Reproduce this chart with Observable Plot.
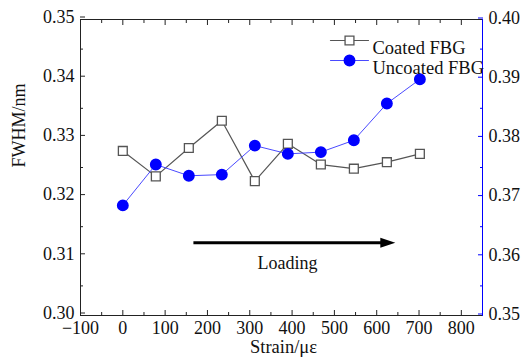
<!DOCTYPE html>
<html>
<head>
<meta charset="utf-8">
<script src="https://cdn.jsdelivr.net/npm/d3@7"></script>
<script src="https://cdn.jsdelivr.net/npm/@observablehq/plot@0.6"></script>
<style>
  html, body { margin: 0; padding: 0; background: #fff; }
  #chart svg { display: block; }
</style>
</head>
<body>
<div id="chart"></div>
<script>
// ---- data ----
const strain = [0, 78, 156, 234, 312, 390, 468, 546, 624, 702];
const coatedFWHM = [0.3278, 0.3235, 0.3283, 0.3329, 0.3227, 0.3290, 0.3255, 0.3248, 0.3259, 0.3273];
const uncoatedFWHM = [0.3686, 0.3755, 0.3736, 0.3738, 0.3787, 0.3773, 0.3776, 0.3796, 0.3858, 0.3899];
const xTicks = [-100, 0, 100, 200, 300, 400, 500, 600, 700, 800];
const xMinorTicks = [-50, 50, 150, 250, 350, 450, 550, 650, 750];
const leftTicks = [0.30, 0.31, 0.32, 0.33, 0.34, 0.35];
const leftMinorTicks = [0.305, 0.315, 0.325, 0.335, 0.345];
const rightTicks = [0.35, 0.36, 0.37, 0.38, 0.39, 0.40];
const rightMinorTicks = [0.355, 0.365, 0.375, 0.385, 0.395];
const xDomain = [-100, 850];
const leftDomain = [0.30, 0.35];
const rightDomain = [0.35, 0.40];
const seriesNames = ["Coated FBG", "Uncoated FBG"];
const loadingArrow = {x1: 168, x2: 625, y: 0.3123};
const loadingLabel = {x: 389, y: 0.3089, text: "Loading"};

// right axis values mapped onto the left scale
const shift = rightDomain[0] - leftDomain[0];
const coated = strain.map((s, i) => ({s, v: coatedFWHM[i]}));
const uncoated = strain.map((s, i) => ({s, v: uncoatedFWHM[i] - shift}));

const FONT = "Liberation Serif, Times New Roman, serif";
const GRAY = "#555";
const BLUE = "#0000ff";
const LINEBLUE = "#4a4aff";
const arrowHead = {draw(ctx) { ctx.moveTo(8, 0); ctx.lineTo(-7, -5); ctx.lineTo(-7, 5); ctx.closePath(); }};
const hLine = {draw(ctx, l) { ctx.moveTo(0, 0); ctx.lineTo(0, -l); }};

const chart = Plot.plot({
  width: 522,
  height: 360,
  marginLeft: 80,
  marginRight: 40,
  marginTop: 19,
  marginBottom: 45,
  style: {fontFamily: FONT, fontSize: "18px", background: "#fff", color: "#111"},
  x: {domain: xDomain},
  y: {domain: leftDomain},
  marks: [
    // bottom axis
    Plot.axisX({ticks: xTicks, tickSize: -5, tickPadding: 11, tickFormat: d => d < 0 ? "\u2212" + Math.abs(d) : String(d), label: null, fontSize: 18, stroke: "#222", fill: "#111"}),
    Plot.axisX({ticks: xMinorTicks, tickSize: -3, tickFormat: () => "", label: null, stroke: "#222"}),
    // top ticks
    Plot.axisX({anchor: "top", ticks: xTicks, tickSize: -5, tickFormat: () => "", label: null, stroke: "#222"}),
    Plot.axisX({anchor: "top", ticks: xMinorTicks, tickSize: -3, tickFormat: () => "", label: null, stroke: "#222"}),
    // left axis
    Plot.axisY({ticks: leftTicks, tickSize: -5, tickPadding: 11, dy: -2.5, tickFormat: d => d.toFixed(2), label: null, fontSize: 18, stroke: "#222", fill: "#111"}),
    Plot.axisY({ticks: leftMinorTicks, tickSize: -3, tickFormat: () => "", label: null, stroke: "#222"}),
    // right axis (blue)
    Plot.axisY({anchor: "right", ticks: rightTicks.map(v => v - shift), tickSize: -5, tickPadding: 11, dy: -1.5, tickFormat: d => (d + shift).toFixed(2), label: null, fontSize: 18, stroke: BLUE, fill: "#111"}),
    Plot.axisY({anchor: "right", ticks: rightMinorTicks.map(v => v - shift), tickSize: -3, tickFormat: () => "", label: null, stroke: BLUE}),
    Plot.frame({stroke: "#222"}),
    Plot.frame({anchor: "right", stroke: BLUE}),
    // series
    Plot.line(coated, {x: "s", y: "v", stroke: GRAY, strokeWidth: 1.2}),
    Plot.line(uncoated, {x: "s", y: "v", stroke: LINEBLUE, strokeWidth: 1}),
    Plot.dot(coated, {x: "s", y: "v", symbol: "square", r: 5, stroke: GRAY, fill: "#fff", strokeWidth: 1.3}),
    Plot.dot(uncoated, {x: "s", y: "v", symbol: "circle", r: 5.2, fill: BLUE, stroke: BLUE}),
    // loading arrow
    Plot.ruleY([loadingArrow], {y: "y", x1: "x1", x2: "x2", strokeWidth: 3, stroke: "#000"}),
    Plot.dot([loadingArrow], {x: "x2", y: "y", symbol: arrowHead, fill: "#000", stroke: "none"}),
    Plot.text([loadingLabel], {x: "x", y: "y", text: "text", fontSize: 18, fill: "#111"}),
    // axis titles
    Plot.text(["FWHM/nm"], {frameAnchor: "left", rotate: -90, dx: -61, fontSize: 18, fill: "#111"}),
    Plot.text(["Strain/\u03bc\u03b5"], {frameAnchor: "bottom", dy: 37.5, dx: 2, fontSize: 18.5, fill: "#111"}),
    // legend
    Plot.vector([seriesNames[0]], {frameAnchor: "top-right", dx: -152, dy: 21, rotate: 90, length: 38, anchor: "start", stroke: GRAY, strokeWidth: 1.2, shape: hLine}),
    Plot.dot([seriesNames[0]], {frameAnchor: "top-right", dx: -133, dy: 21, symbol: "square", r: 5, stroke: GRAY, fill: "#fff", strokeWidth: 1.3}),
    Plot.text([seriesNames[0]], {frameAnchor: "top-right", dx: -110, dy: 21, text: d => d, textAnchor: "start", fontSize: 18.5, fill: "#111"}),
    Plot.vector([seriesNames[1]], {frameAnchor: "top-right", dx: -152, dy: 41, rotate: 90, length: 38, anchor: "start", stroke: LINEBLUE, strokeWidth: 1, shape: hLine}),
    Plot.dot([seriesNames[1]], {frameAnchor: "top-right", dx: -133, dy: 41, symbol: "circle", r: 5.2, fill: BLUE, stroke: BLUE}),
    Plot.text([seriesNames[1]], {frameAnchor: "top-right", dx: -110, dy: 41, text: d => d, textAnchor: "start", fontSize: 18.5, fill: "#111"})
  ]
});
document.getElementById("chart").appendChild(chart);
</script>
</body>
</html>
